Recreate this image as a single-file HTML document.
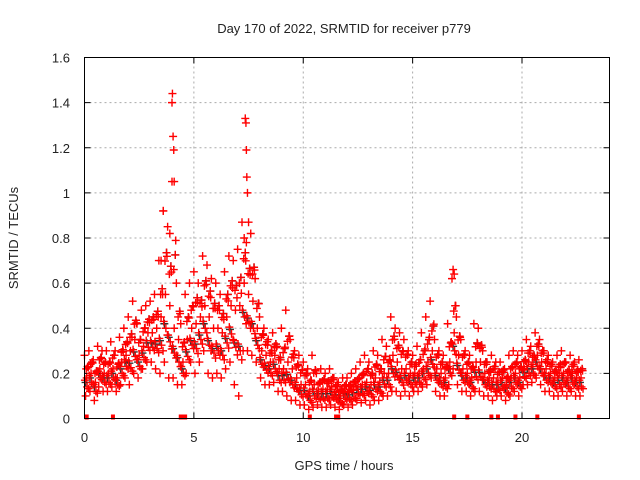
<!DOCTYPE html>
<html><head><meta charset="utf-8"><style>
body{margin:0;background:#fff}
svg{display:block;font-family:"Liberation Sans",sans-serif}
</style></head><body>
<svg id="chart" width="640" height="480">
<text x="344" y="33" text-anchor="middle" font-size="13" fill="#222">Day 170 of 2022, SRMTID for receiver p779</text>
<text transform="translate(18,238) rotate(-90)" text-anchor="middle" font-size="13" fill="#222">SRMTID / TECUs</text>
<text x="344" y="470" text-anchor="middle" font-size="13" fill="#222">GPS time / hours</text>
<g id="grid"></g><g id="ticks"></g><g id="marks"></g>
<rect x="84.5" y="57.5" width="525" height="361" fill="none" stroke="#000"/>
</svg>
<script>
const times=[0,0.2,0.4,0.6,0.8,1,1.2,1.4,1.6,1.8,2,2.2,2.4,2.6,2.8,3,3.2,3.4,3.6,3.8,4,4.2,4.4,4.6,4.8,5,5.2,5.4,5.6,5.8,6,6.2,6.4,6.6,6.8,7,7.2,7.4,7.6,7.8,8,8.2,8.4,8.6,8.8,9,9.2,9.4,9.6,9.8,10,10.2,10.4,10.6,10.8,11,11.2,11.4,11.6,11.8,12,12.2,12.4,12.6,12.8,13,13.2,13.4,13.6,13.8,14,14.2,14.4,14.6,14.8,15,15.2,15.4,15.6,15.8,16,16.2,16.4,16.6,16.8,17,17.2,17.4,17.6,17.8,18,18.2,18.4,18.6,18.8,19,19.2,19.4,19.6,19.8,20,20.2,20.4,20.6,20.8,21,21.2,21.4,21.6,21.8,22,22.2,22.4,22.6];
const hiVals=[.28,.30,.26,.32,.30,.30,.34,.30,.36,.40,.45,.52,.42,.48,.50,.52,.55,.70,.92,.85,1.05,.60,.42,.55,.60,.65,.60,.72,.68,.62,.60,.55,.65,.72,.70,.75,.87,.78,.82,.62,.45,.40,.35,.38,.32,.40,.48,.35,.30,.28,.25,.22,.28,.20,.22,.20,.22,.18,.16,.18,.18,.20,.22,.25,.28,.25,.30,.28,.35,.32,.45,.40,.38,.35,.30,.28,.32,.38,.45,.52,.35,.30,.28,.42,.62,.45,.35,.30,.28,.42,.40,.30,.25,.28,.25,.25,.22,.28,.30,.28,.30,.35,.32,.38,.35,.30,.28,.25,.28,.30,.25,.28,.25,.26];
const midVals=[.18,.20,.16,.22,.20,.20,.22,.18,.25,.28,.30,.35,.28,.32,.38,.38,.40,.45,.55,.50,.40,.35,.25,.35,.40,.42,.45,.50,.45,.40,.40,.38,.45,.50,.48,.50,.60,.55,.52,.40,.30,.28,.25,.28,.22,.22,.25,.22,.18,.15,.15,.12,.15,.12,.13,.13,.14,.12,.10,.12,.12,.13,.14,.15,.16,.15,.18,.16,.20,.20,.28,.25,.22,.22,.20,.20,.20,.22,.25,.30,.22,.20,.18,.25,.38,.28,.22,.20,.18,.25,.25,.20,.18,.18,.16,.18,.15,.18,.20,.18,.22,.25,.24,.28,.25,.22,.20,.18,.20,.20,.18,.20,.18,.18];
const loVals=[.10,.12,.08,.14,.12,.12,.14,.12,.15,.18,.15,.20,.18,.22,.25,.25,.22,.20,.25,.18,.18,.15,.15,.20,.25,.20,.25,.30,.20,.18,.20,.18,.22,.25,.15,.10,.30,.30,.28,.25,.18,.15,.15,.16,.12,.12,.10,.08,.08,.06,.06,.04,.05,.06,.05,.05,.06,.05,.04,.06,.05,.06,.08,.07,.08,.06,.08,.08,.10,.10,.12,.12,.10,.12,.10,.12,.12,.14,.15,.18,.12,.10,.10,.15,.22,.15,.12,.12,.10,.12,.12,.10,.10,.08,.10,.10,.08,.10,.12,.10,.15,.15,.16,.18,.15,.12,.12,.10,.10,.12,.10,.12,.10,.10];
const spikeTimes=[3.5,3.6,3.9,4.0,4.02,4.05,4.08,4.1,7.3,7.35,7.38,7.4,7.42,7.45,7.5,16.85,16.9];
const spikeVals=[.70,.92,.82,1.40,1.44,1.25,1.19,1.05,.80,1.33,1.31,1.19,1.07,1.00,.87,.66,.64];
const zeroTimes=[0.1,1.3,4.4,4.5,4.6,10.3,11.5,11.6,16.9,17.5,18.6,18.9,19.7,20.7,22.6];
const yTicks=[0,0.2,0.4,0.6,0.8,1,1.2,1.4,1.6];
const yTickLabels=["0","0.2","0.4","0.6","0.8","1","1.2","1.4","1.6"];
const xTicks=[0,5,10,15,20];
const xTickLabels=["0","5","10","15","20"];

const X0=84.5,X1=609.5,Y0=418.5,Y1=57.5,XMAX=24,YMAX=1.6;
const sx=t=>X0+(X1-X0)*t/XMAX;
const sy=v=>Y0-(Y0-Y1)*v/YMAX;
const NS="http://www.w3.org/2000/svg";
const grid=document.getElementById('grid'),ticks=document.getElementById('ticks'),marks=document.getElementById('marks');
function mk(tag,attrs,parent){const e=document.createElementNS(NS,tag);for(const k in attrs)e.setAttribute(k,attrs[k]);parent.appendChild(e);return e;}
yTicks.forEach((v,i)=>{
  const y=sy(v);
  if(i>0&&i<yTicks.length-1){const g=mk('line',{x1:X0,x2:X1,y1:y,y2:y,stroke:'#aaa','stroke-dasharray':'2,3'},grid);
  
  }
  mk('line',{x1:X0,x2:X0+6,y1:y,y2:y,stroke:'#000'},ticks);
  mk('line',{x1:X1,x2:X1-6,y1:y,y2:y,stroke:'#000'},ticks);
  const t=mk('text',{x:70,y:y+5,'text-anchor':'end','font-size':'13',fill:'#222'},ticks);
  t.textContent=yTickLabels[i];
  
  
});
xTicks.forEach((v,i)=>{
  const x=sx(v);
  if(i>0){const g=mk('line',{x1:x,x2:x,y1:Y0,y2:Y1,stroke:'#aaa','stroke-dasharray':'2,3'},grid);
  
  }
  mk('line',{x1:x,x2:x,y1:Y0,y2:Y0-6,stroke:'#000'},ticks);
  mk('line',{x1:x,x2:x,y1:Y1,y2:Y1+6,stroke:'#000'},ticks);
  const t=mk('text',{x:x,y:442,'text-anchor':'middle','font-size':'13',fill:'#222'},ticks);
  t.textContent=xTickLabels[i];
  
  
});
function plus(t,v,color,name){
  const x=sx(t),y=sy(v);
  const p=mk('path',{d:`M${x-4},${y}h8M${x},${y-4}v8`,stroke:color,'stroke-width':'1.4',fill:'none'},marks);
  
  
}
// black points
times.forEach((t,i)=>{
  plus(t+0.05,(loVals[i]+midVals[i])/2+0.02,'#333','black-point');
  plus(t+0.15,(hiVals[i]+midVals[i])/2,'#333','black-point');
});
// red points
times.forEach((t,i)=>{
  plus(t,hiVals[i],'#f00','red-point');
  plus(t+0.1,midVals[i],'#f00','red-point');
  plus(t+0.05,loVals[i],'#f00','red-point');
  plus(t+0.15,(hiVals[i]+midVals[i])/2,'#f00','red-point');
  plus(t+0.12,(loVals[i]+midVals[i])/2,'#f00','red-point');
  plus(t+0.02,(loVals[i]+midVals[i])/2+0.03,'#f00','red-point');
  plus(t+0.17,(hiVals[i]*0.7+loVals[i]*0.3),'#f00','red-point');
  plus(t+0.08,(hiVals[i]*0.4+midVals[i]*0.6),'#f00','red-point');
  plus(t+0.19,(loVals[i]*0.6+midVals[i]*0.4),'#f00','red-point');
});
spikeTimes.forEach((t,i)=>plus(t,spikeVals[i],'#f00','spike-point'));
zeroTimes.forEach(t=>{
  const r=mk('rect',{x:sx(t)-2,y:Y0-4,width:4,height:5,fill:'#f00'},marks);
  
  
});
</script>
</body></html>
